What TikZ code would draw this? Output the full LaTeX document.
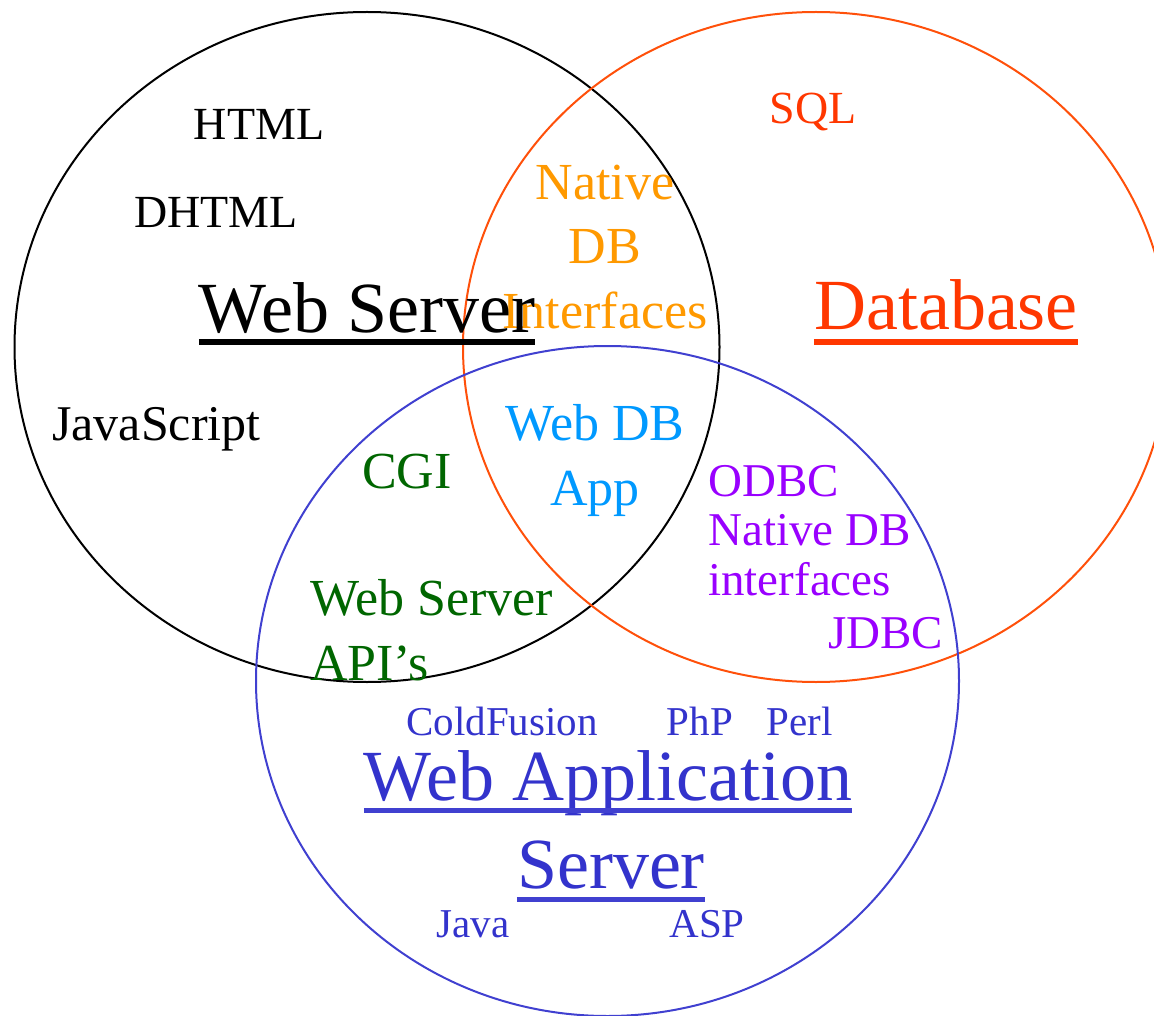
\documentclass[tikz,border=0pt]{standalone}
\usepackage{fontspec}
\setmainfont{Liberation Serif}
\usepackage{tikz}
\usetikzlibrary{positioning}

\definecolor{dbline}{RGB}{255,80,10}
\definecolor{dbtext}{RGB}{255,55,0}
\definecolor{ifaceorange}{RGB}{255,153,0}
\definecolor{webdbblue}{RGB}{0,153,255}
\definecolor{cgigreen}{RGB}{0,102,0}
\definecolor{odbcpurple}{RGB}{153,0,255}
\definecolor{appblue}{RGB}{51,51,204}
\definecolor{appline}{RGB}{64,64,208}

\tikzset{
  lbl/.style={inner sep=0pt, anchor=base},
  big/.style={lbl, font=\fontsize{72}{80}\selectfont},
  mid/.style={lbl, font=\fontsize{52}{64.5}\selectfont},
  small/.style={lbl, font=\fontsize{47}{49.5}\selectfont},
  tiny/.style={lbl, font=\fontsize{41}{48}\selectfont},
  uline/.style={line width=5pt}
}

\begin{document}
\begin{tikzpicture}[x=1pt, y=-1pt]
        \useasboundingbox (0,0) rectangle (1154,1016);
        % the three sets
        \draw [line width=2pt] (367,347) ellipse [x radius=352.5pt, y radius=335pt];
        \draw [dbline, line width=2pt] (816,347) ellipse [x radius=353pt, y radius=335pt];
        \draw [appline, line width=2pt] (607.5,681) ellipse [x radius=351.5pt, y radius=335pt];

        \node (html) at (259,140) [lbl, font=\fontsize{46}{50}\selectfont] {HTML};
        \node (dhtml) at (216,228) [lbl, font=\fontsize{46}{50}\selectfont] {DHTML};
        \node (javascript) at (52,440) [lbl, anchor=base west, font=\fontsize{50}{55}\selectfont] {JavaScript};
        % multi-line nodes sit on their last line
        \node (nativedb) at (605,328) [mid, ifaceorange, align=center] {Native\\DB\\Interfaces};
        \node (webserver) at (367,333) [big] {Web Server};
        \draw [uline] ([yshift=-9pt]webserver.base west) -- ([yshift=-9pt]webserver.base east);

        \node (sql) at (813,124) [lbl, dbtext, font=\fontsize{46}{50}\selectfont] {SQL};
        \node (database) at (946,330) [big, dbtext] {Database};
        \draw [uline, dbtext] ([yshift=-12pt]database.base west) -- ([yshift=-12pt]database.base east);

        \node (webdbapp) at (595,505) [mid, webdbblue, align=center] {Web DB\\App};
        \node (cgi) at (407,488) [mid, cgigreen] {CGI};
        \node (serverapi) at (310,680) [mid, cgigreen, anchor=base west, align=left] {Web Server\\API’s};

        \node (odbc) at (708,595) [small, odbcpurple, anchor=base west, align=left] {ODBC\\Native DB\\interfaces};
        \node (jdbc) at (828,648) [small, odbcpurple, anchor=base west] {JDBC};

        \node (coldfusion) at (502,735) [tiny, appblue] {ColdFusion};
        \node (php) at (700,735) [tiny, appblue] {PhP};
        \node (perl) at (800,735) [tiny, appblue] {Perl};
        \node (webapp) at (608,800) [big, appblue] {Web Application};
        \draw [uline, appline] ([yshift=-10pt]webapp.base west) -- ([yshift=-10pt]webapp.base east);
        \node (appserver) at (611,888) [big, appblue] {Server};
        \draw [uline, appline] ([yshift=-11pt]appserver.base west) -- ([yshift=-11pt]appserver.base east);
        \node (java) at (473,937) [tiny, appblue] {Java};
        \node (asp) at (707,937) [tiny, appblue] {ASP};
    \end{tikzpicture}
\end{document}
